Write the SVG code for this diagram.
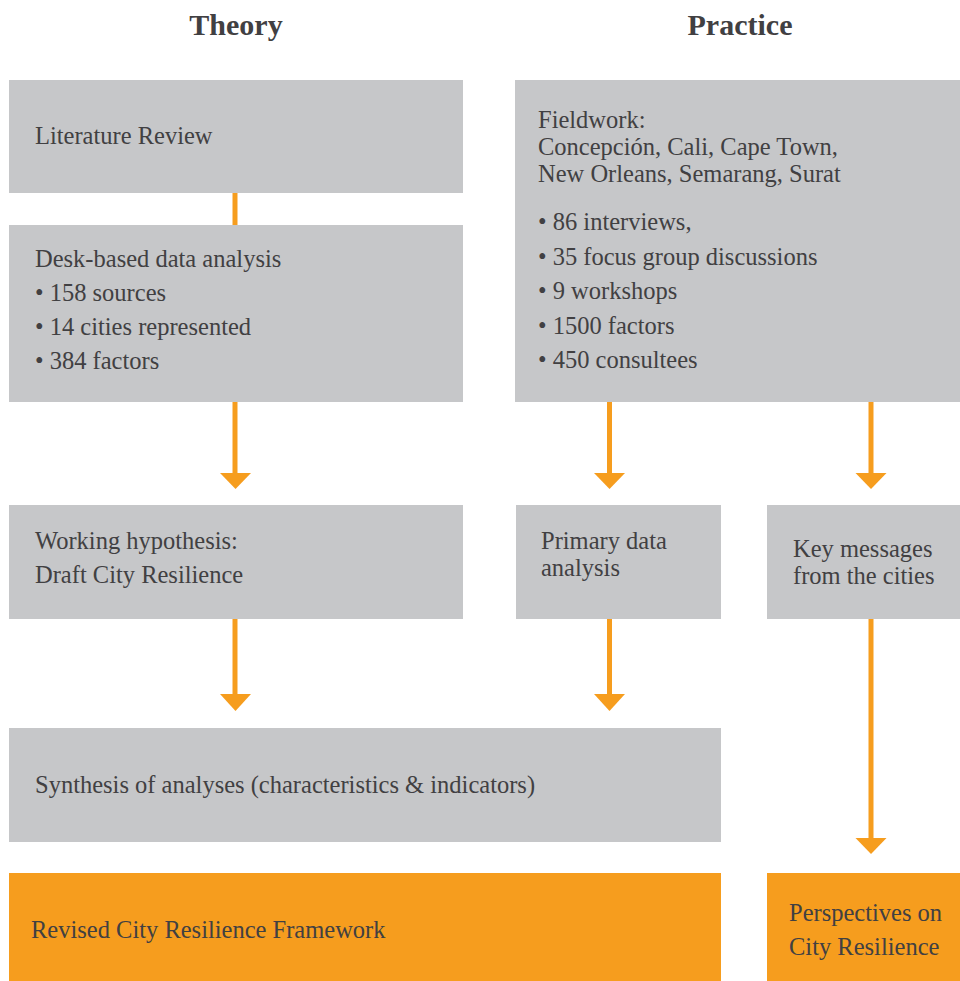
<svg xmlns="http://www.w3.org/2000/svg" width="960" height="981" viewBox="0 0 960 981">
<style>
.box{fill:#c6c7c9}
.obox{fill:#f69d1e}
text{font-family:"Liberation Serif","Times New Roman",serif;font-size:24.5px;fill:#414042}
.title{font-size:30px;font-weight:bold}
.ln{stroke:#f69d1e;stroke-width:5;fill:none}
.hd{fill:#f69d1e}
</style>
<rect width="960" height="981" fill="#ffffff"/>
<g id="titles">
<text class="title" x="236" y="35" text-anchor="middle">Theory</text>
<text class="title" x="740" y="35" text-anchor="middle">Practice</text>
</g>
<g id="connectors">
<line class="ln" x1="235" y1="193" x2="235" y2="225"/>
<line class="ln" x1="235" y1="402" x2="235" y2="474"/>
<polygon class="hd" points="220,473 251,473 235.5,489"/>
<line class="ln" x1="609.5" y1="402" x2="609.5" y2="474"/>
<polygon class="hd" points="594,473 625,473 609.5,489"/>
<line class="ln" x1="871" y1="402" x2="871" y2="474"/>
<polygon class="hd" points="855.5,473 886.5,473 871,489"/>
<line class="ln" x1="235" y1="619" x2="235" y2="695"/>
<polygon class="hd" points="220,694 251,694 235.5,711"/>
<line class="ln" x1="609.5" y1="619" x2="609.5" y2="695"/>
<polygon class="hd" points="594,694 625,694 609.5,711"/>
<line class="ln" x1="871" y1="619" x2="871" y2="839"/>
<polygon class="hd" points="855.5,838 886.5,838 871,854"/>
</g>
<g id="literature">
<rect class="box" x="9" y="80" width="454" height="113"/>
<text x="35" y="144">Literature Review</text>
</g>
<g id="desk">
<rect class="box" x="9" y="225" width="454" height="177"/>
<text x="35" y="267">Desk-based data analysis</text>
<text x="35" y="301">• 158 sources</text>
<text x="35" y="335">• 14 cities represented</text>
<text x="35" y="369">• 384 factors</text>
</g>
<g id="fieldwork">
<rect class="box" x="515" y="80" width="445" height="322"/>
<text x="538" y="128">Fieldwork:</text>
<text x="538" y="155">Concepción, Cali, Cape Town,</text>
<text x="538" y="182">New Orleans, Semarang, Surat</text>
<text x="538" y="230">• 86 interviews,</text>
<text x="538" y="264.5">• 35 focus group discussions</text>
<text x="538" y="299">• 9 workshops</text>
<text x="538" y="333.5">• 1500 factors</text>
<text x="538" y="368">• 450 consultees</text>
</g>
<g id="hypothesis">
<rect class="box" x="9" y="505" width="454" height="114"/>
<text x="35" y="549">Working hypothesis:</text>
<text x="35" y="583">Draft City Resilience</text>
</g>
<g id="primary">
<rect class="box" x="516" y="505" width="205" height="114"/>
<text x="541" y="549">Primary data</text>
<text x="541" y="576">analysis</text>
</g>
<g id="keymessages">
<rect class="box" x="767" y="505" width="193" height="114"/>
<text x="793" y="557">Key messages</text>
<text x="793" y="584">from the cities</text>
</g>
<g id="synthesis">
<rect class="box" x="9" y="728" width="712" height="114"/>
<text x="35" y="793">Synthesis of analyses (characteristics &amp; indicators)</text>
</g>
<g id="revised">
<rect class="obox" x="9" y="873" width="712" height="108"/>
<text x="31" y="938">Revised City Resilience Framework</text>
</g>
<g id="perspectives">
<rect class="obox" x="767" y="873" width="193" height="108"/>
<text x="789" y="921">Perspectives on</text>
<text x="789" y="955">City Resilience</text>
</g>
</svg>
